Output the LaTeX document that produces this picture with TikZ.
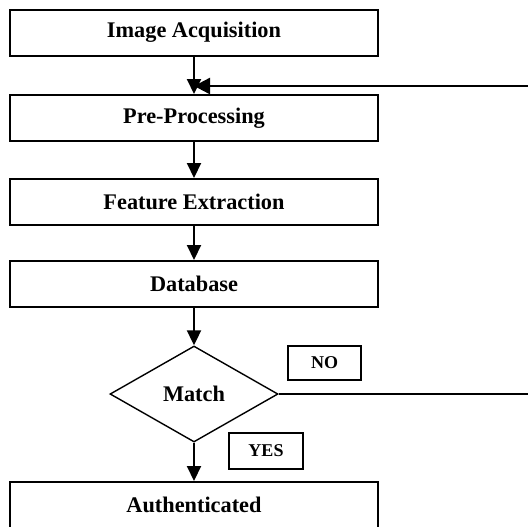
\documentclass[tikz,border=0pt]{standalone}
\usepackage{fontspec}
\setmainfont{Liberation Serif}
\usetikzlibrary{shapes.geometric,arrows.meta}
\tikzset{
  stepbox/.style={draw, line width=1pt, minimum width=184pt, minimum height=23pt, inner sep=0pt,
    font=\fontsize{11.15}{13}\selectfont\bfseries},
  tagbox/.style={draw, line width=1pt, inner sep=0pt,
    font=\fontsize{9}{11}\selectfont\bfseries},
  decide/.style={draw, shape=diamond, line width=0.7pt, minimum width=84pt, minimum height=48pt,
    inner sep=0pt, aspect=1.75, font=\fontsize{11.15}{13}\selectfont\bfseries},
  flow/.style={line width=1pt, -{Triangle[width=7pt,length=7.5pt]}},
}
\begin{document}
\begin{tikzpicture}[x=0.5pt,y=-0.5pt]
\useasboundingbox (0,0) rectangle (528,526);
\node[stepbox] (b1) at (194,32.5) {Image Acquisition};
\node[stepbox] (b2) at (194,118) {Pre-Processing};
\node[stepbox] (b3) at (194,202) {Feature Extraction};
\node[stepbox] (b4) at (194,284) {Database};
\node[decide] (m) at (194,394) {Match};
\node[stepbox] (b5) at (194,505) {Authenticated};
\node[tagbox, minimum width=36.5pt, minimum height=17pt] (no) at (324.5,363) {NO};
\node[tagbox, minimum width=37pt, minimum height=18pt] (yes) at (266,451) {YES};
\coordinate (fbR) at (534,86);
\draw[flow] (b1) -- (b2);
\draw[flow] (b2) -- (b3);
\draw[flow] (b3) -- (b4);
\draw[flow] (b4.south) -- (m.north);
\draw[flow] (m.south) -- (b5.north);
\draw[line width=1.2pt, -{Triangle[width=8pt,length=8pt]}] (fbR) -- (fbR -| b1.south);
\draw[line width=0.7pt] (m.east) -- (m.east -| fbR);
\end{tikzpicture}
\end{document}
